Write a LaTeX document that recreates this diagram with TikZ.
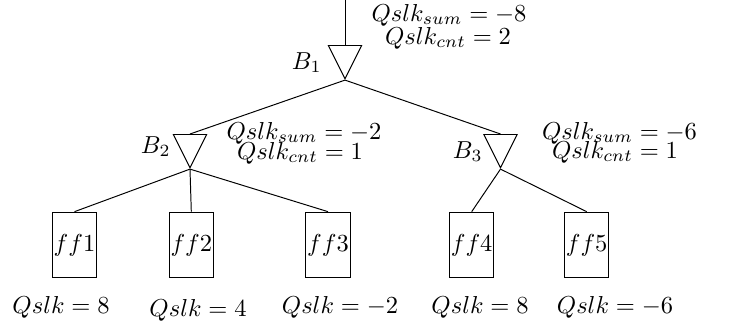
\documentclass[tikz,border=0pt]{standalone}
\usepackage{amsmath}
\usepackage{tikz}
\usetikzlibrary{shapes.geometric,positioning}
\tikzset{
  buffer/.style={isosceles triangle,draw=black,shape border rotate=270,
    isosceles triangle stretches,minimum width=13.6pt,minimum height=13.6pt,
    inner sep=0pt},
  ffbox/.style={rectangle,draw=black,minimum width=18pt,minimum height=26.8pt,
    inner sep=0pt},
  qlabel/.style={inner sep=0pt,anchor=base},
  blabel/.style={inner sep=0pt,anchor=base east}
}

\begin{document}
\begin{tikzpicture}[x=0.408pt,y=-0.408pt]
  \useasboundingbox (0,0) rectangle (730,327);
  \coordinate (in) at (345,0);
  % buffers
  \node[buffer,anchor=north] (b1) at (345,45) {};
  \node[buffer,anchor=north] (b2) at (190,134) {};
  \node[buffer,anchor=north] (b3) at (500.5,134) {};
  \node[blabel] (lb1) at (322,69) {$B_1$};
  \node[blabel] (lb2) at (171,153) {$B_2$};
  \node[blabel] (lb3) at (483,158) {$B_3$};
  % flip-flops
  \node[ffbox] (ff1) at (74.5,245) {$ff1$};
  \node[ffbox] (ff2) at (191.3,245) {$ff2$};
  \node[ffbox] (ff3) at (328,245) {$ff3$};
  \node[ffbox] (ff4) at (471.7,245) {$ff4$};
  \node[ffbox] (ff5) at (586.7,245) {$ff5$};
  % slack values
  \node[qlabel] (sum1) at (449,21) {$Qslk_{sum} = -8$};
  \node[qlabel] (cnt1) at (448,44) {$Qslk_{cnt} = 2$};
  \node[qlabel] (sum2) at (304,139) {$Qslk_{sum} = -2$};
  \node[qlabel] (cnt2) at (300,159) {$Qslk_{cnt} = 1$};
  \node[qlabel] (sum3) at (619.5,139) {$Qslk_{sum} = -6$};
  \node[qlabel] (cnt3) at (615,158) {$Qslk_{cnt} = 1$};
  \node[qlabel] (q1) at (61,313) {$Qslk = 8$};
  \node[qlabel] (q2) at (198,316) {$Qslk = 4$};
  \node[qlabel] (q3) at (340,313) {$Qslk = -2$};
  \node[qlabel] (q4) at (480,313) {$Qslk = 8$};
  \node[qlabel] (q5) at (615,313) {$Qslk = -6$};
  % wires
  \draw (in) -- (b1.north);
  \draw (b1.apex) -- (b2.north);
  \draw (b1.apex) -- (b3.north);
  \draw (b2.apex) -- (ff1.north);
  \draw (b2.apex) -- (ff2.north);
  \draw (b2.apex) -- (ff3.north);
  \draw (b3.apex) -- (ff4.north);
  \draw (b3.apex) -- (ff5.north);
\end{tikzpicture}
\end{document}
